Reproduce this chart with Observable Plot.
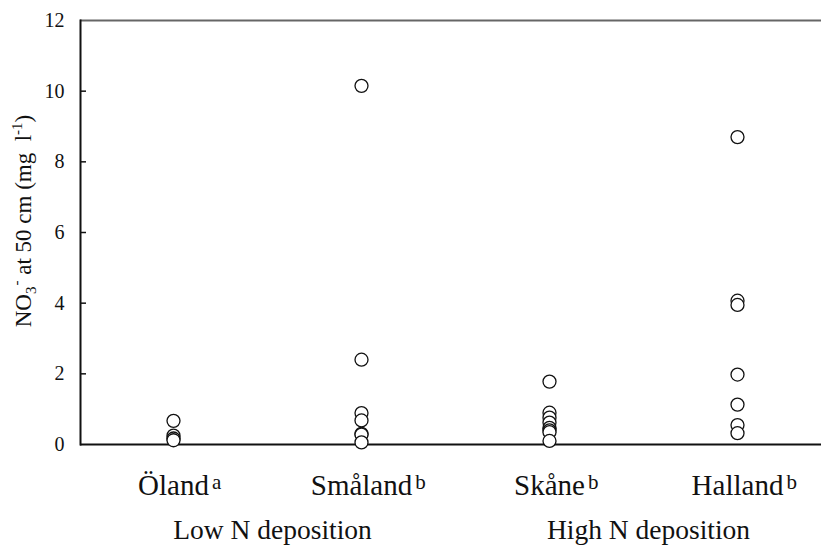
<!DOCTYPE html>
<html><head><meta charset="utf-8">
<script src="https://cdn.jsdelivr.net/npm/d3@7"></script>
<script src="https://cdn.jsdelivr.net/npm/@observablehq/plot@0.6"></script>
<style>body{margin:0;background:#fff} svg{display:block}</style>
</head><body><div id="chart"></div>
<script>
// ---- data ----
const regions = ["Öland", "Småland", "Skåne", "Halland"];
const letters = ["a", "b", "b", "b"];
const groups = ["Low N deposition", "High N deposition"];
const groupFirst = ["Öland", "Skåne"];
const yTicks = [0, 2, 4, 6, 8, 10, 12];
const olandValues = [0.67, 0.25, 0.17, 0.12];
const smalandValues = [10.15, 2.4, 0.89, 0.68, 0.3, 0.28, 0.06];
const skaneValues = [1.78, 0.9, 0.76, 0.62, 0.47, 0.4, 0.35, 0.1];
const hallandValues = [8.7, 4.07, 3.95, 1.98, 1.13, 0.55, 0.32];

const seriesValues = [olandValues, smalandValues, skaneValues, hallandValues];
const data = regions.flatMap((r, i) => seriesValues[i].map(v => ({region: r, value: v})));

const font = "'Liberation Serif', 'Times New Roman', serif";
const catSize = 29, supSize = 21;
const ctx = document.createElement("canvas").getContext("2d");
ctx.font = `${catSize}px 'Liberation Serif'`;
const halfW = regions.map(r => ctx.measureText(r).width / 2);

const chart = Plot.plot({
  width: 821, height: 546,
  marginLeft: 80, marginRight: 0, marginTop: 20, marginBottom: 102,
  style: {fontFamily: font, background: "white", color: "#111"},
  x: {type: "point", domain: regions, range: [173, 737], padding: 0, axis: null},
  y: {domain: [0, 12]},
  marks: [
    Plot.axisY(yTicks, {tickSize: 0, tickPadding: 16, fontSize: 20, tickFormat: d => String(d), label: null}),
    Plot.axisY(yTicks.slice(1, -1), {tickSize: 6, dx: 6, text: null, label: null, stroke: "#111", strokeWidth: 1.5}),
    Plot.ruleY([12], {stroke: "#666", strokeWidth: 2}),
    Plot.ruleY([0], {stroke: "#111", strokeWidth: 2}),
    Plot.frame({anchor: "left", stroke: "#111", strokeWidth: 2}),
    Plot.dot(data, {x: "region", y: "value", r: 6.5, fill: "white", stroke: "#111", strokeWidth: 1.3}),
    Plot.text(regions, {x: d => d, frameAnchor: "bottom", dy: 50, lineAnchor: "bottom", fontSize: catSize, fill: "#111"}),
    ...regions.map((r, i) => Plot.text([r], {x: d => d, text: () => letters[i], frameAnchor: "bottom", dy: 44, dx: halfW[i] + 3, textAnchor: "start", lineAnchor: "bottom", fontSize: supSize, fill: "#111"})),
    Plot.text(groups, {x: (d, i) => groupFirst[i], text: d => d, dx: 99, frameAnchor: "bottom", dy: 94, lineAnchor: "bottom", fontSize: 27.5, fill: "#111"})
  ]
});
document.getElementById("chart").appendChild(chart);

// y-axis title with sub/superscripts
const t = d3.select(chart).append("text")
  .attr("transform", "translate(31,221) rotate(-90)")
  .attr("text-anchor", "middle")
  .style("font-family", font).style("font-size", "23px").style("white-space", "pre")
  .attr("fill", "#111");
t.append("tspan").text("NO");
t.append("tspan").attr("font-size", "15px").attr("dy", 5).text("3");
t.append("tspan").attr("font-size", "15px").attr("dy", -15).attr("dx", 1).text("-");
t.append("tspan").attr("dy", 10).text(" at 50 cm (mg  l");
t.append("tspan").attr("font-size", "15px").attr("dy", -9).text("-1");
t.append("tspan").attr("dy", 9).text(")");
</script>
</body></html>
